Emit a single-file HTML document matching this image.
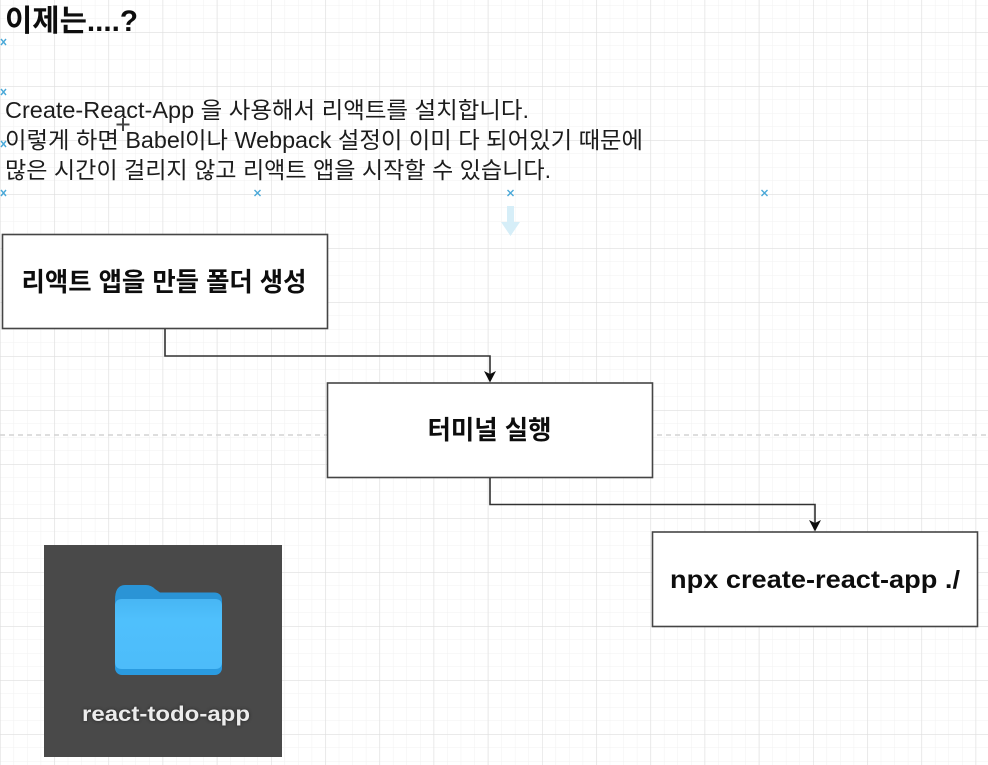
<!DOCTYPE html>
<html><head><meta charset="utf-8">
<style>
html,body{margin:0;padding:0;background:#fff}
svg{display:block}
text{font-family:"Liberation Sans","Noto Sans CJK KR",sans-serif}
</style></head>
<body>
<svg width="988" height="765" viewBox="0 0 988 765" xmlns="http://www.w3.org/2000/svg">
<defs>
<pattern id="minor" width="13.55" height="13.5" patternUnits="userSpaceOnUse" x="0" y="5">
<path d="M0 0H13.55M0 0V13.5" stroke="#f1f1f1" stroke-width="1" fill="none"/>
</pattern>
<pattern id="major" width="54.2" height="54" patternUnits="userSpaceOnUse" x="0" y="32">
<path d="M0 0H54.2M0 0V54" stroke="#dedede" stroke-width="1.200" fill="none"/>
</pattern>
<linearGradient id="folder" x1="0" y1="0" x2="0" y2="1">
<stop offset="0" stop-color="#48b6f4"/><stop offset=".3" stop-color="#50c0fc"/><stop offset="1" stop-color="#4dbcfa"/>
</linearGradient>
<filter id="b" x="-10%" y="-30%" width="120%" height="160%"><feGaussianBlur stdDeviation="1.5"/></filter>
<filter id="s" x="-2%" y="-2%" width="104%" height="104%"><feGaussianBlur stdDeviation="0.35"/></filter>
</defs>
<rect width="988" height="765" fill="#fff"/>
<rect width="988" height="765" fill="url(#minor)"/>
<rect width="988" height="765" fill="url(#major)"/>
<line x1="0" y1="435" x2="988" y2="435" stroke="#d4d4d4" stroke-width="1.500" stroke-dasharray="5 4"/>

<g filter="url(#s)">
<g stroke="#4aa8d8" stroke-width="1.400">
<path d="M1 39L6 45M6 39L1 45"/>
<path d="M1 89L6 95M6 89L1 95"/>
<path d="M1 141L6 147M6 141L1 147"/>
<path d="M1 190L6 196M6 190L1 196"/>
<path d="M254.500 190L260.500 196M260.500 190L254.500 196"/>
<path d="M507.500 190L513.500 196M513.500 190L507.500 196"/>
<path d="M761.500 190L767.500 196M767.500 190L761.500 196"/>
</g>
<path d="M507 206H514V222H520L510.500 236L501 222H507Z" fill="#d6eef8"/>

<text x="5" y="31" font-size="30" font-weight="700" fill="#111" textLength="133" lengthAdjust="spacingAndGlyphs">이제는....?</text>
<text x="5" y="118" font-size="23" fill="#1c1c1c" textLength="524" lengthAdjust="spacingAndGlyphs">Create-React-App 을 사용해서 리액트를 설치합니다.</text>
<text x="5" y="148" font-size="23" fill="#1c1c1c" textLength="638" lengthAdjust="spacingAndGlyphs">이렇게 하면 Babel이나 Webpack 설정이 이미 다 되어있기 때문에</text>
<text x="5" y="178" font-size="23" fill="#1c1c1c" textLength="546" lengthAdjust="spacingAndGlyphs">많은 시간이 걸리지 않고 리액트 앱을 시작할 수 있습니다.</text>
<path d="M123 118V131M116.500 124.500H129.500" stroke="#444" stroke-width="2"/>

<rect x="2.500" y="234.500" width="325" height="94" fill="#fff" stroke="#444" stroke-width="1.600"/>
<rect x="327.500" y="383" width="325" height="94.500" fill="#fff" stroke="#444" stroke-width="1.600"/>
<rect x="652.500" y="532" width="325" height="94.500" fill="#fff" stroke="#444" stroke-width="1.600"/>

<path d="M165 329V356H490V374" fill="none" stroke="#333" stroke-width="1.600"/>
<path d="M484 371L490 374L496 371L490 382.500Z" fill="#111"/>
<path d="M490 478V504.500H815V523" fill="none" stroke="#333" stroke-width="1.600"/>
<path d="M809 520L815 523L821 520L815 531.500Z" fill="#111"/>

<text x="164" y="291" font-size="26" font-weight="700" fill="#111" text-anchor="middle" textLength="285" lengthAdjust="spacingAndGlyphs">리액트 앱을 만들 폴더 생성</text>
<text x="489.500" y="439" font-size="26" font-weight="700" fill="#111" text-anchor="middle" textLength="124" lengthAdjust="spacingAndGlyphs">터미널 실행</text>
<text x="815" y="588" font-size="25" font-weight="700" fill="#111" text-anchor="middle" textLength="290" lengthAdjust="spacingAndGlyphs">npx create-react-app ./</text>

<rect x="44" y="545" width="238" height="212" fill="#484848"/>
<path d="M115 600Q115 585 125 585H146Q151 585 155 589L160 592.500H214Q222 592.500 222 601V620H115Z" fill="#2a94d6"/>
<rect x="115" y="599" width="107" height="76" rx="7" fill="#2b9be0"/>
<path d="M115 606Q115 599 122 599H215Q222 599 222 606V662Q222 669 215 669H122Q115 669 115 662Z" fill="url(#folder)"/>
<text x="166" y="721" font-size="21" font-weight="700" fill="#000" opacity=".5" text-anchor="middle" textLength="168" lengthAdjust="spacingAndGlyphs" filter="url(#b)">react-todo-app</text>
<text x="166" y="721" font-size="21" font-weight="700" fill="#ececec" text-anchor="middle" textLength="168" lengthAdjust="spacingAndGlyphs">react-todo-app</text>
</g>
</svg>
</body></html>
